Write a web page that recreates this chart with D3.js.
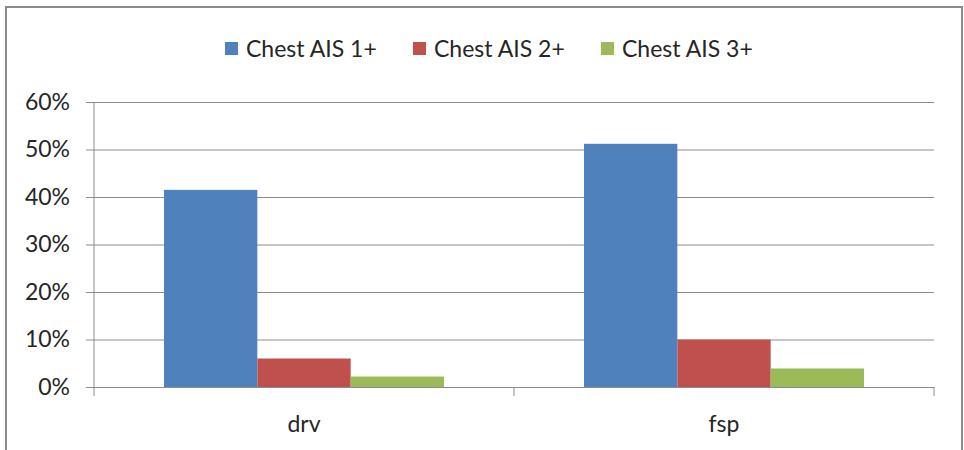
<!DOCTYPE html>
<html>
<head>
<meta charset="utf-8">
<script src="https://cdn.jsdelivr.net/npm/d3@7"></script>
<style>
  html, body { margin: 0; padding: 0; background: #fff; }
  svg { display: block; font-family: "Lato", "Open Sans", sans-serif; }
</style>
</head>
<body>
<svg id="chart" width="964" height="450"></svg>
<script>
// chart data
const categories = ["drv", "fsp"];
const seriesNames = ["Chest AIS 1+", "Chest AIS 2+", "Chest AIS 3+"];
const seriesColors = ["#4F81BD", "#C0504D", "#9BBB59"];
const chestAIS1 = [0.415, 0.512];
const chestAIS2 = [0.060, 0.100];
const chestAIS3 = [0.022, 0.039];
const yTicks = [0, 0.1, 0.2, 0.3, 0.4, 0.5, 0.6];

const seriesValues = [chestAIS1, chestAIS2, chestAIS3];

const svg = d3.select("#chart");
const gridColor = "#8c8c8c";
const textColor = "#262626";
const fontSize = "23px";

// outer frame
svg.append("rect")
  .attr("x", 6).attr("y", 7)
  .attr("width", 956).attr("height", 460)
  .attr("fill", "none")
  .attr("stroke", "#8a8a8a")
  .attr("stroke-width", 2);

const y = d3.scaleLinear().domain([0, 0.6]).range([387, 102]);
const x0 = d3.scaleBand().domain(categories).range([94, 934]).padding(0);
const x1 = d3.scaleBand().domain(seriesNames).range([0, x0.bandwidth()])
  .paddingInner(0).paddingOuter(0.75);

// gridlines + y ticks
const yAxis = svg.append("g")
  .attr("transform", "translate(94,0)")
  .call(d3.axisLeft(y).tickValues(yTicks).tickFormat(d3.format(".0%"))
    .tickSize(-(934 - 94)).tickPadding(24));
yAxis.select(".domain").remove();
yAxis.selectAll(".tick line").attr("stroke", gridColor).attr("x1", -8);
yAxis.selectAll(".tick text")
  .attr("fill", textColor)
  .style("font-size", fontSize)
  .style("font-family", "Lato, sans-serif");

// y axis line
svg.append("line")
  .attr("x1", 94).attr("x2", 94)
  .attr("y1", y(0.6)).attr("y2", y(0))
  .attr("stroke", gridColor);

// bars
const groups = svg.append("g").selectAll("g")
  .data(categories)
  .join("g")
  .attr("transform", d => `translate(${x0(d)},0)`);

groups.selectAll("rect")
  .data((d, i) => seriesNames.map((s, j) => ({ s, j, v: seriesValues[j][i] })))
  .join("rect")
  .attr("x", d => x1(d.s))
  .attr("width", x1.bandwidth())
  .attr("y", d => y(d.v))
  .attr("height", d => y(0) - y(d.v))
  .attr("fill", d => seriesColors[d.j]);

// x axis
const xAxis = svg.append("g")
  .attr("transform", `translate(0,${y(0)})`)
  .call(d3.axisBottom(x0).tickSize(0));
xAxis.select(".domain").attr("stroke", gridColor);
xAxis.selectAll(".tick text")
  .attr("y", 45).attr("dy", 0)
  .attr("fill", textColor)
  .style("font-size", fontSize)
  .style("font-family", "Lato, sans-serif");

// category separators
const edges = [x0.range()[0]].concat(categories.map(c => x0(c) + x0.bandwidth()));
svg.append("g").selectAll("line")
  .data(edges)
  .join("line")
  .attr("x1", d => d).attr("x2", d => d)
  .attr("y1", y(0)).attr("y2", y(0) + 9)
  .attr("stroke", gridColor);

// legend
const legendX = [225, 413, 601];
const legend = svg.append("g").selectAll("g")
  .data(seriesNames)
  .join("g")
  .attr("transform", (d, i) => `translate(${legendX[i]},42)`);
legend.append("rect")
  .attr("width", 13).attr("height", 13)
  .attr("fill", (d, i) => seriesColors[i]);
legend.append("text")
  .attr("x", 21).attr("y", 14.5)
  .attr("fill", textColor)
  .style("font-size", fontSize)
  .text(d => d);
</script>
</body>
</html>
